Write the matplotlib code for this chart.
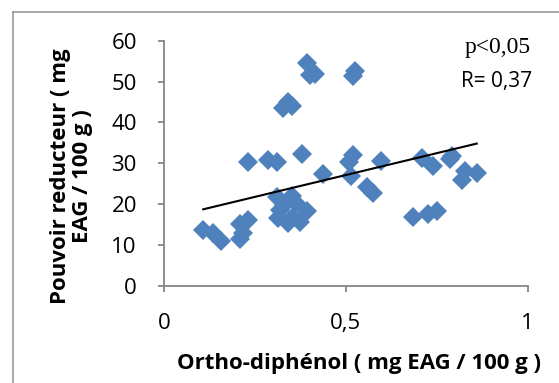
import matplotlib
matplotlib.use("Agg")
import matplotlib.pyplot as plt
import numpy as np
from matplotlib.lines import Line2D

ortho = [0.108, 0.135, 0.157, 0.208, 0.216, 0.210, 0.232,
         0.232, 0.287, 0.310, 0.379, 0.438,
         0.311, 0.352, 0.319, 0.393, 0.355, 0.314, 0.341, 0.374, 0.330, 0.362,
         0.342, 0.328, 0.351,
         0.392, 0.402, 0.415, 0.525, 0.521,
         0.520, 0.510, 0.515, 0.559, 0.574, 0.598,
         0.709, 0.741, 0.787, 0.791, 0.828, 0.860, 0.819,
         0.686, 0.727, 0.750]
pouvoir = [13.6, 13.0, 11.0, 11.4, 13.0, 15.2, 16.0,
           30.2, 30.8, 30.2, 32.3, 27.3,
           21.7, 22.0, 18.5, 18.2, 16.8, 16.6, 15.4, 15.6, 19.8, 20.2,
           45.0, 43.5, 44.0,
           54.5, 51.6, 51.8, 52.5, 51.3,
           32.0, 30.2, 26.8, 24.2, 22.8, 30.5,
           31.2, 29.3, 31.0, 31.8, 28.2, 27.6, 25.8,
           16.9, 17.6, 18.3]
trend_intercept = 16.4
trend_slope = 21.4
stat_p = "p<0,05"
stat_r = "R= 0,37"
xlabel = "Ortho-diphénol ( mg EAG / 100 g )"
ylabel = "Pouvoir reducteur ( mg\nEAG / 100 g )"
xticks = [0, 0.5, 1]
xticklabels = ["0", "0,5", "1"]
yticks = [0, 10, 20, 30, 40, 50, 60]

W, H = 559, 383
fig = plt.figure(figsize=(W / 100, H / 100), dpi=100)
fig.patch.set_facecolor("white")
ax = fig.add_axes([164 / W, 1 - 285.7 / H, (527.6 - 164) / W, (285.7 - 40.7) / H])

blue = "#4F81BD"
ax.plot(ortho, pouvoir, linestyle="none", marker="D", markersize=10.5,
        markerfacecolor=blue, markeredgecolor=blue, markeredgewidth=0, zorder=2)

tx = np.array([min(ortho), max(ortho)])
ax.plot(tx, trend_intercept + trend_slope * tx, color="black", linewidth=1.5, zorder=3)

ax.set_xlim(0, 1)
ax.set_ylim(0, 60)
ax.set_xticks(xticks)
ax.set_xticklabels(xticklabels)
ax.set_yticks(yticks)

spine_c = "#868686"
for s in ["top", "right"]:
    ax.spines[s].set_visible(False)
for s in ["left", "bottom"]:
    ax.spines[s].set_color(spine_c)
    ax.spines[s].set_linewidth(1.3)
ax.tick_params(axis="both", direction="out", length=4.5, width=1.3, color=spine_c,
               labelsize=16, labelcolor="black")
ax.tick_params(axis="x", pad=15.5)
ax.tick_params(axis="y", pad=15)
for lab in ax.get_xticklabels() + ax.get_yticklabels():
    lab.set_family("Open Sans")

fig.text(359 / W, 1 - 363 / H, xlabel, ha="center", va="center", fontsize=16,
         fontweight="bold", family="Open Sans")
fig.text(71.5 / W, 1 - 176 / H, ylabel, ha="center", va="center", rotation=90,
         multialignment="center", fontsize=16, fontweight="bold", family="Open Sans",
         linespacing=1.05)

fig.text(531 / W, 1 - 48 / H, stat_p, ha="right", va="center", fontsize=17,
         family="Liberation Serif")
fig.text(532 / W, 1 - 81 / H, stat_r, ha="right", va="center", fontsize=15, family="Open Sans")

fig.add_artist(Line2D([12.5 / W, 12.5 / W], [0, 1 - 11.5 / H], transform=fig.transFigure,
                      color="#9a9a9a", linewidth=1.2))
fig.add_artist(Line2D([12.5 / W, 1], [1 - 11.5 / H, 1 - 11.5 / H], transform=fig.transFigure,
                      color="#9a9a9a", linewidth=1.2))

fig.savefig("out.png", dpi=100)
